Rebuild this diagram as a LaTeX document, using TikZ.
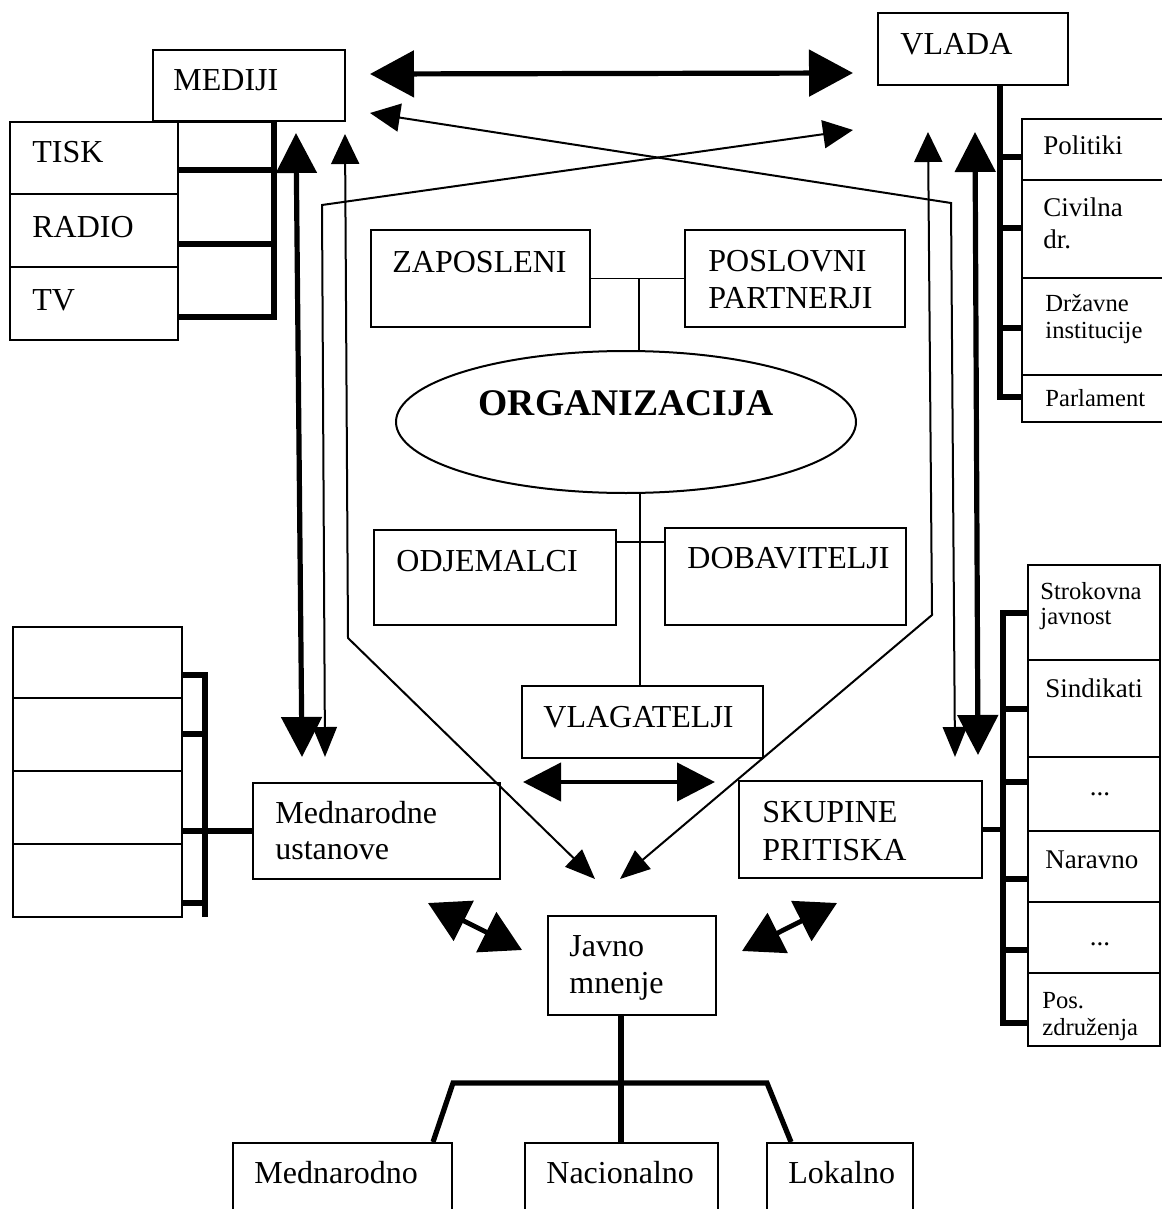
\documentclass[tikz,border=0pt]{standalone}
\usepackage{fontspec}
\setmainfont{Liberation Serif}
\usetikzlibrary{arrows.meta,fit,shapes.geometric}
\begin{document}
\begin{tikzpicture}[x=0.5pt,y=-0.5pt,
  box/.style={draw, line width=1pt, inner sep=0pt},
  thinln/.style={line width=0.9pt},
  thickln/.style={line width=2.6pt},
  T/.style={inner sep=0pt, anchor=base west, font=\fontsize{16}{19}\selectfont},
  S/.style={inner sep=0pt, anchor=base west, font=\fontsize{13.5}{16}\selectfont},
  s/.style={inner sep=0pt, anchor=base west, font=\fontsize{12.3}{14}\selectfont},
  bigarr/.style={line width=2.6pt, {Triangle[length=22pt,width=23pt]}-{Triangle[length=22pt,width=23pt]}},
  varr/.style={line width=2.6pt, {Triangle[length=20pt,width=20pt]}-{Triangle[length=20pt,width=20pt]}},
  tarr/.style={line width=1pt, {Triangle[length=15pt,width=14pt]}-{Triangle[length=15pt,width=12pt]}},
  darr/.style={line width=2.4pt, {Triangle[length=20pt,width=22pt]}-{Triangle[length=20pt,width=22pt]}},
  harr/.style={line width=2.2pt, {Triangle[length=19pt,width=19pt]}-{Triangle[length=19pt,width=19pt]}}
]
\useasboundingbox (0,0) rectangle (1161,1209);

% ---------- top-left: MEDIJI ----------
\node[box, fit={(153,50) (345,121)}] (mediji) {};
\node[T] (tmediji) at (173,91) {MEDIJI};
\node[box, fit={(10,122) (178,340)}] (tcol) {};
\draw[thinln] (tcol.west |- 0,194) -- (tcol.east |- 0,194);
\draw[thinln] (tcol.west |- 0,267) -- (tcol.east |- 0,267);
\node[T] (ttisk) at (32,163) {TISK};
\node[T] (tradio) at (32,237) {RADIO};
\node[T] (ttv) at (32,310) {TV};
\node[box, fit={(178,122) (273,316)}] (cellsM) {};
\draw[thickln] (cellsM.east |- mediji.south) -- (cellsM.south east) -- (cellsM.south west);
\draw[thickln] (cellsM.west |- 0,170) -- (cellsM.east |- 0,170);
\draw[thickln] (cellsM.west |- 0,244) -- (cellsM.east |- 0,244);

% ---------- top-right: VLADA ----------
\node[box, fit={(878,13) (1068,85)}] (vlada) {};
\node[T] (tvlada) at (900,55) {VLADA};
\node[box, fit={(1022,119) (1168,422)}] (vcol) {};
\draw[thinln] (vcol.west |- 0,180) -- (vcol.east |- 0,180);
\draw[thinln] (vcol.west |- 0,278) -- (vcol.east |- 0,278);
\draw[thinln] (vcol.west |- 0,375) -- (vcol.east |- 0,375);
\node[S] (tpol) at (1043,155) {Politiki};
\node[S] (tciv1) at (1043,217) {Civilna};
\node[S] (tciv2) at (1043,249) {dr.};
\node[s] (tdrz1) at (1045,311) {Državne};
\node[s] (tdrz2) at (1045,338) {institucije};
\node[s] (tpar) at (1045,406) {Parlament};
\coordinate (vb) at (1000,397);
\draw[thickln] (vlada.south -| vb) -- (vb) -- (vcol.west |- vb);
\draw[thickln] (vb |- 0,157) -- (vcol.west |- 0,157);
\draw[thickln] (vb |- 0,228) -- (vcol.west |- 0,228);
\draw[thickln] (vb |- 0,328) -- (vcol.west |- 0,328);

% ---------- centre ----------
\node[box, fit={(371,230) (590,327)}] (zap) {};
\node[T] (tzap) at (392,272) {ZAPOSLENI};
\node[box, fit={(685,230) (905,327)}] (posl) {};
\node[T] (tposl1) at (708,271) {POSLOVNI};
\node[T] (tposl2) at (708,308) {PARTNERJI};
\node[draw, ellipse, line width=1pt, inner sep=0pt, minimum width=230pt, minimum height=71pt] (org) at (626,422) {};
\node[inner sep=0pt, anchor=base, font=\fontsize{18.8}{22}\selectfont\bfseries] (torg) at (626,415) {ORGANIZACIJA};
\node[box, fit={(374,530) (616,625)}] (odj) {};
\node[T] (todj) at (396,571) {ODJEMALCI};
\node[box, fit={(665,528) (906,625)}] (dob) {};
\node[T] (tdob) at (687,568) {DOBAVITELJI};
\node[box, fit={(522,686) (763,758)}] (vlag) {};
\node[T] (tvlag) at (543,727) {VLAGATELJI};

\coordinate (j1) at (639,278);
\draw[thinln] (zap.east) -- (posl.west);
\draw[thinln] (j1) -- (j1 |- org.north);
\coordinate (j2) at (640,542);
\draw[thinln] (j2 |- org.south) -- (j2 |- vlag.north);
\draw[thinln] (odj.east |- j2) -- (dob.west |- j2);

% ---------- left middle: Mednarodne ustanove ----------
\node[box, fit={(253,783) (500,879)}] (mednar) {};
\node[T] (tmed1) at (275,823) {Mednarodne};
\node[T] (tmed2) at (275,859) {ustanove};
\node[box, fit={(13,627) (182,917)}] (lcol) {};
\draw[thinln] (lcol.west |- 0,698) -- (lcol.east |- 0,698);
\draw[thinln] (lcol.west |- 0,771) -- (lcol.east |- 0,771);
\draw[thinln] (lcol.west |- 0,844) -- (lcol.east |- 0,844);
\coordinate (lb) at (205,675);
\draw[thickln] (lcol.east |- lb) -- (lb) -- (lb |- 0,917);
\draw[thickln] (lcol.east |- 0,734) -- (lb |- 0,734);
\draw[thickln] (lcol.east |- 0,903) -- (lb |- 0,903);
\draw[thickln] (lcol.east |- mednar.west) -- (mednar.west);

% ---------- right middle: SKUPINE PRITISKA ----------
\node[box, fit={(739,781) (982,878)}] (skup) {};
\node[T] (tskup1) at (762,822) {SKUPINE};
\node[T] (tskup2) at (762,860) {PRITISKA};
\node[box, fit={(1028,565) (1160,1046)}] (rcol) {};
\foreach \yy in {660,757,831,902,973} \draw[thinln] (rcol.west |- 0,\yy) -- (rcol.east |- 0,\yy);
\node[s] (tstr1) at (1040,599) {Strokovna};
\node[s] (tstr2) at (1040,624) {javnost};
\node[S] (tsin) at (1045,697) {Sindikati};
\node[S, anchor=base] (tdot1) at (1100,795) {...};
\node[S] (tnar) at (1045,868) {Naravno};
\node[S, anchor=base] (tdot2) at (1100,945) {...};
\node[s] (tpos1) at (1042,1008) {Pos.};
\node[s] (tpos2) at (1042,1035) {združenja};
\coordinate (rb) at (1003,613);
\draw[thickln] (rcol.west |- rb) -- (rb) -- (rb |- 0,1023) -- (rcol.west |- 0,1023);
\foreach \yy in {709,782,879,950} \draw[thickln] (rb |- 0,\yy) -- (rcol.west |- 0,\yy);
\draw[thickln] (skup.east) -- (rb |- skup.east);

% ---------- bottom: Javno mnenje ----------
\node[box, fit={(548,916) (716,1015)}] (javno) {};
\node[T] (tjav1) at (569,956) {Javno};
\node[T] (tjav2) at (569,993) {mnenje};
\node[box, fit={(233,1143) (452,1220)}] (mnod) {};
\node[T] (tmnod) at (254,1183) {Mednarodno};
\node[box, fit={(525,1143) (718,1220)}] (nac) {};
\node[T] (tnac) at (546,1183) {Nacionalno};
\node[box, fit={(767,1143) (913,1220)}] (lok) {};
\node[T] (tlok) at (788,1183) {Lokalno};
\coordinate (tb) at (621,1083);
\draw[thickln] (javno.south -| tb) -- (tb) -- (tb |- nac.north);
\draw[thickln] (mnod.north -| 433,0) -- (453,1083) -- (767,1083) -- (lok.north -| 791,0);

% ---------- arrows ----------
\coordinate (hL) at (370,74);
\coordinate (hR) at (853,73);
\draw[bigarr] (hL) -- (hR);

% crossing thin connectors
\coordinate (bT) at (370,113);
\coordinate (bK) at (951,203);
\coordinate (bB) at (955,757);
\draw[tarr] (bT) -- (bK) -- (bB);
\coordinate (aT) at (853,130);
\coordinate (aK) at (322,205);
\coordinate (aB) at (325,757);
\draw[tarr] (aT) -- (aK) -- (aB);

% thin arrows to Javno mnenje
\coordinate (lT) at (345,134);
\coordinate (lK) at (348,638);
\coordinate (lB) at (595,879);
\draw[tarr] (lT) -- (lK) -- (lB);
\coordinate (rT) at (928,132);
\coordinate (rK) at (932,615);
\coordinate (rB) at (620,879);
\draw[tarr] (rT) -- (rK) -- (rB);

% thick vertical arrows
\coordinate (ltT) at (296,133);
\coordinate (ltB) at (302,757);
\draw[varr] (ltT) -- (ltB);
\coordinate (rtT) at (975,132);
\coordinate (rtB) at (978,755);
\draw[varr] (rtT) -- (rtB);

% double arrow under VLAGATELJI
\coordinate (vL) at (523,782);
\coordinate (vR) at (715,782);
\draw[harr] (vL) -- (vR);

% diagonal double arrows around Javno mnenje
\coordinate (dlA) at (428,903);
\coordinate (dlB) at (522,950);
\draw[darr] (dlA) -- (dlB);
\coordinate (drA) at (742,951);
\coordinate (drB) at (837,903);
\draw[darr] (drA) -- (drB);
\end{tikzpicture}
\end{document}
